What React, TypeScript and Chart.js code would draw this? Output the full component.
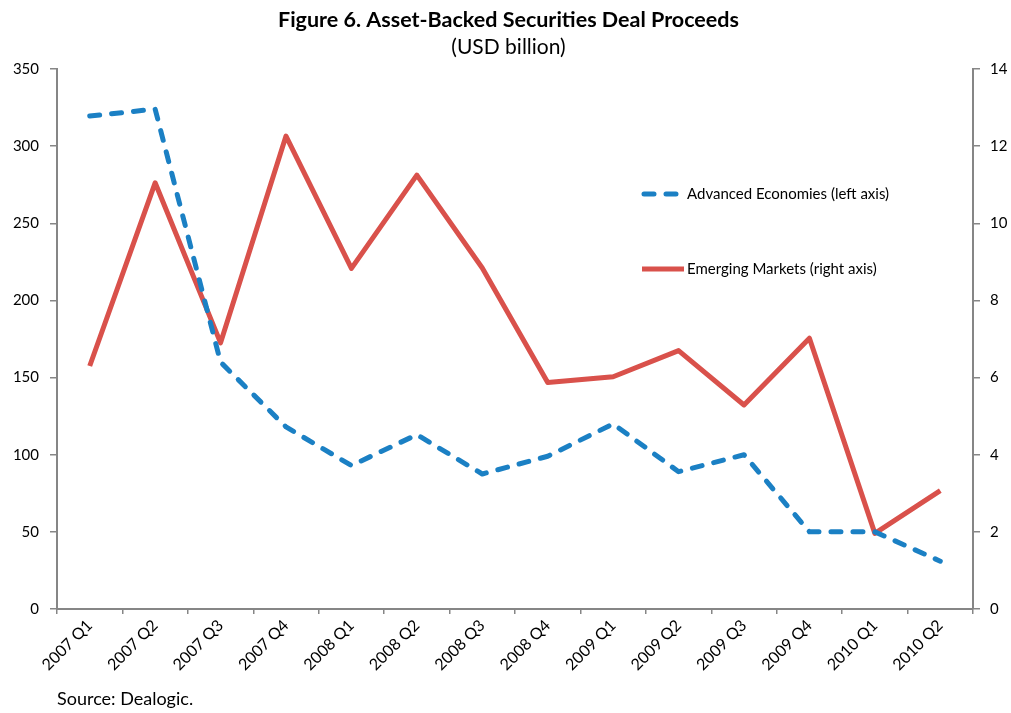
import React, { useEffect, useRef } from "react";
import { Chart, registerables } from "chart.js";

Chart.register(...registerables);

const categories = [
  "2007 Q1", "2007 Q2", "2007 Q3", "2007 Q4",
  "2008 Q1", "2008 Q2", "2008 Q3", "2008 Q4",
  "2009 Q1", "2009 Q2", "2009 Q3", "2009 Q4",
  "2010 Q1", "2010 Q2",
];
const advancedEconomies = [319.5, 324, 160, 118, 93, 113, 87.5, 99, 120, 89, 100, 50, 50, 31];
const emergingMarkets = [6.3, 11.05, 6.9, 12.26, 8.83, 11.25, 8.84, 5.87, 6.02, 6.7, 5.29, 7.02, 1.96, 3.07];
const leftAxisMax = 350;
const leftAxisStep = 50;
const rightAxisMax = 14;
const rightAxisStep = 2;
const titleText = "Figure 6. Asset-Backed Securities Deal Proceeds";
const subtitleText = "(USD billion)";
const sourceText = "Source: Dealogic.";
const advLabel = "Advanced Economies (left axis)";
const emLabel = "Emerging Markets (right axis)";

const FONT = "Lato, 'Liberation Sans', sans-serif";
const BLUE = "#1B80C4";
const RED = "#D9514B";
const AXIS = "#868686";

const textPlugin = {
  id: "textPlugin",
  afterDraw(chart: any) {
    const ctx = chart.ctx;
    ctx.save();
    ctx.fillStyle = "#000";
    ctx.textAlign = "center";
    ctx.textBaseline = "middle";
    ctx.font = `bold 21.5px ${FONT}`;
    ctx.fillText(titleText, 508.5, 20);
    ctx.font = `21px ${FONT}`;
    ctx.fillText(subtitleText, 508.5, 47);
    ctx.textAlign = "left";
    ctx.font = `18px ${FONT}`;
    ctx.fillText(sourceText, 57, 699);

    // legend
    ctx.lineWidth = 5;
    ctx.lineCap = "round";
    ctx.strokeStyle = BLUE;
    ctx.setLineDash([10, 12]);
    ctx.beginPath();
    ctx.moveTo(644, 194);
    ctx.lineTo(678, 194);
    ctx.stroke();
    ctx.setLineDash([]);
    ctx.strokeStyle = RED;
    ctx.lineCap = "butt";
    ctx.beginPath();
    ctx.moveTo(642, 269);
    ctx.lineTo(684, 269);
    ctx.stroke();
    ctx.font = `15px ${FONT}`;
    ctx.fillStyle = "#000";
    ctx.fillText(advLabel, 687, 194);
    ctx.fillText(emLabel, 687, 269);
    ctx.restore();
  },
};

export default function App() {
  const ref = useRef<HTMLCanvasElement | null>(null);
  useEffect(() => {
    if (!ref.current) return;
    const chart = new Chart(ref.current, {
      type: "line",
      data: {
        labels: categories,
        datasets: [
          {
            label: advLabel,
            data: advancedEconomies,
            yAxisID: "yL",
            borderColor: BLUE,
            borderWidth: 5,
            borderDash: [10, 12],
            borderCapStyle: "round",
            borderJoinStyle: "round",
            pointRadius: 0,
            tension: 0,
            fill: false,
          },
          {
            label: emLabel,
            data: emergingMarkets,
            yAxisID: "yR",
            borderColor: RED,
            borderWidth: 5,
            borderJoinStyle: "round",
            pointRadius: 0,
            tension: 0,
            fill: false,
          },
        ],
      },
      options: {
        responsive: false,
        animation: false,
        layout: { padding: { top: 69, left: 0, right: 0, bottom: 0 } },
        plugins: {
          legend: { display: false },
          tooltip: { enabled: false },
          title: { display: false },
        },
        scales: {
          x: {
            offset: true,
            grid: {
              offset: true,
              drawOnChartArea: false,
              drawTicks: true,
              tickLength: 5,
              color: AXIS,
              lineWidth: 1.5,
            },
            border: { color: AXIS, width: 2 },
            ticks: {
              minRotation: 45,
              maxRotation: 45,
              autoSkip: false,
              padding: 2,
              color: "#000",
              font: { family: FONT, size: 16 },
            },
            afterFit(scale: any) {
              scale.height = 104;
            },
          },
          yL: {
            position: "left",
            min: 0,
            max: leftAxisMax,
            grid: {
              drawOnChartArea: false,
              drawTicks: true,
              tickLength: 7,
              color: AXIS,
              lineWidth: 1.5,
            },
            border: { color: AXIS, width: 2 },
            ticks: {
              stepSize: leftAxisStep,
              padding: 11,
              color: "#000",
              font: { family: FONT, size: 15 },
            },
            afterFit(scale: any) {
              scale.width = 57;
            },
          },
          yR: {
            position: "right",
            min: 0,
            max: rightAxisMax,
            grid: {
              drawOnChartArea: false,
              drawTicks: true,
              tickLength: 7,
              color: AXIS,
              lineWidth: 1.5,
            },
            border: { color: AXIS, width: 2 },
            ticks: {
              stepSize: rightAxisStep,
              padding: 10,
              color: "#000",
              font: { family: FONT, size: 15 },
            },
            afterFit(scale: any) {
              scale.width = 38;
            },
          },
        },
      },
      plugins: [textPlugin],
    } as any);
    return () => chart.destroy();
  }, []);
  return (
    <div style={{ position: "absolute", left: 0, top: 0, width: 1011, height: 713, background: "#fff" }}>
      <canvas ref={ref} width={1011} height={713} />
    </div>
  );
}
